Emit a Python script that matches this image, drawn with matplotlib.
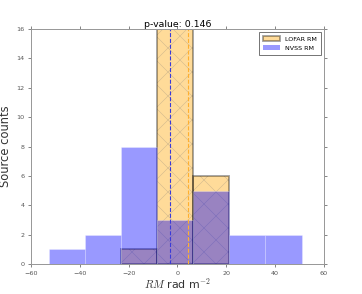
import matplotlib
matplotlib.use('Agg')
import matplotlib.pyplot as plt
from matplotlib.patches import Patch
import numpy as np

plt.rcParams['font.family'] = 'DejaVu Sans'
plt.rcParams['hatch.linewidth'] = 0.5
plt.rcParams['mathtext.fontset'] = 'cm'

# ── data ────────────────────────────────────────────────────
nvss_edges  = [-52.6, -37.8, -23.1, -8.3, 6.5, 21.3, 36.0, 50.8]
nvss_counts = [1, 2, 8, 3, 5, 2, 2]
lofar_edges  = [-23.1, -8.3, 6.5, 21.3]
lofar_counts = [1, 16, 6]
lofar_median = 4.2
nvss_median  = -3.0
p_value = 0.146

# ── plot (72 dpi so hatch spacing matches) ──────────────────
fig = plt.figure(figsize=(362 / 72, 294 / 72), dpi=72)
ax = fig.add_axes([0.0856, 0.102, 0.8094, 0.799])

lofar_fc = (1.0, 0.647, 0.0, 0.4)
lofar_ec = (0, 0, 0, 0.38)
# fill + light hatch, then the outline on top
ax.bar(lofar_edges[:-1], lofar_counts, width=np.diff(lofar_edges), align='edge',
       facecolor=lofar_fc, edgecolor=(0.45, 0.45, 0.45, 0.35), lw=0, hatch='x')
ax.bar(lofar_edges[:-1], lofar_counts, width=np.diff(lofar_edges), align='edge',
       facecolor='none', edgecolor=lofar_ec, lw=1.8)
ax.bar(nvss_edges[:-1], nvss_counts, width=np.diff(nvss_edges), align='edge',
       facecolor=(0.0, 0.0, 1.0, 0.4), edgecolor=(1, 1, 1, 0.3), lw=0.8)
ax.axvline(nvss_median, color='#3a3ad8', ls='--', lw=1.1)
ax.axvline(lofar_median, color='#ffb030', ls='--', lw=1.1)

ax.set_xlim(-60, 60)
ax.set_ylim(0, 16)
ax.set_xticks(np.arange(-60, 61, 20))
ax.set_yticks(np.arange(0, 17, 2))
ax.tick_params(labelsize=6.4, colors='#555555', length=3, width=0.7,
               direction='out', right=True, top=True)
for s in ax.spines.values():
    s.set_color('#999999')
    s.set_linewidth(1.0)

ax.set_title(f'p-value: {p_value}', fontsize=9.4, pad=2)
ax.set_ylabel('Source counts', fontsize=11.5, color='#333333', labelpad=4)
ax.set_xlabel(r'$RM$ rad m$^{-2}$', fontsize=11, color='#333333', labelpad=1)

handles = [Patch(facecolor=lofar_fc, edgecolor=lofar_ec, lw=1.8, label='LOFAR RM'),
           Patch(facecolor=(0.0, 0.0, 1.0, 0.4), edgecolor='none', label='NVSS RM')]
leg = ax.legend(handles=handles, loc='upper right', fontsize=6.4, fancybox=False,
                edgecolor='#777777', framealpha=1, handlelength=2.6,
                borderpad=0.6, labelspacing=0.6)
leg.get_frame().set_linewidth(1.0)

plt.savefig('out.png', dpi=72, facecolor='white')
